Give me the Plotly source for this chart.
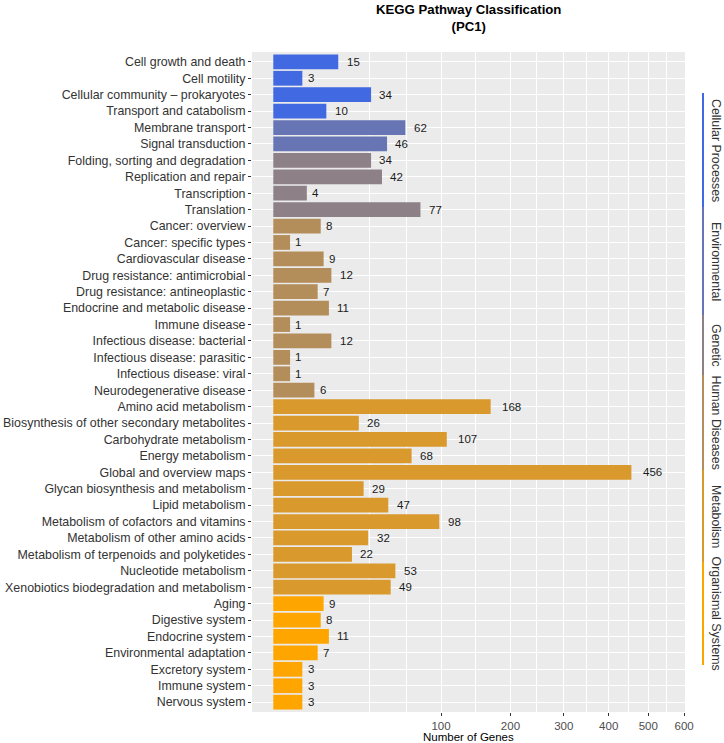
import numpy as np
import plotly.graph_objects as go

pathways = [
    "Cell growth and death", "Cell motility", "Cellular community \u2013 prokaryotes", "Transport and catabolism",
    "Membrane transport", "Signal transduction",
    "Folding, sorting and degradation", "Replication and repair", "Transcription", "Translation",
    "Cancer: overview", "Cancer: specific types", "Cardiovascular disease", "Drug resistance: antimicrobial",
    "Drug resistance: antineoplastic", "Endocrine and metabolic disease", "Immune disease",
    "Infectious disease: bacterial", "Infectious disease: parasitic", "Infectious disease: viral",
    "Neurodegenerative disease",
    "Amino acid metabolism", "Biosynthesis of other secondary metabolites", "Carbohydrate metabolism",
    "Energy metabolism", "Global and overview maps", "Glycan biosynthesis and metabolism", "Lipid metabolism",
    "Metabolism of cofactors and vitamins", "Metabolism of other amino acids",
    "Metabolism of terpenoids and polyketides", "Nucleotide metabolism", "Xenobiotics biodegradation and metabolism",
    "Aging", "Digestive system", "Endocrine system", "Environmental adaptation", "Excretory system",
    "Immune system", "Nervous system",
]
genes = [15, 3, 34, 10, 62, 46, 34, 42, 4, 77, 8, 1, 9, 12, 7, 11, 1, 12, 1, 1, 6,
         168, 26, 107, 68, 456, 29, 47, 98, 32, 22, 53, 49, 9, 8, 11, 7, 3, 3, 3]
groups = (["Cellular Processes"] * 4 + ["Environmental"] * 2 + ["Genetic"] * 4 +
          ["Human Diseases"] * 11 + ["Metabolism"] * 12 + ["Organismal Systems"] * 7)
group_names = ["Cellular Processes", "Environmental", "Genetic", "Human Diseases", "Metabolism", "Organismal Systems"]
group_colors = ["#4169E1", "#6775B4", "#8D8187", "#B38D5A", "#D9992D", "#FFA500"]
x_ticks = [100, 200, 300, 400, 500, 600]
minor_grid = [33, 63, 146, 247, 348, 448, 549]

cmap = dict(zip(group_names, group_colors))
sx = np.sqrt(np.array(genes, dtype=float))

fig = go.Figure()
fig.add_trace(go.Bar(
    x=sx, y=pathways, orientation="h", width=0.9,
    marker=dict(color=[cmap[g] for g in groups], line=dict(width=0)),
    hoverinfo="skip", showlegend=False,
))

annotations = []
for p, v, s in zip(pathways, genes, sx):
    w = 6.4 * len(str(v))
    annotations.append(dict(x=s, y=p, xref="x", yref="y", text=str(v), showarrow=False,
                            xanchor="left", xshift=0.5 * w, font=dict(size=11.5, color="#1a1a1a")))

# right-hand group strip
seg_px = [93, 207, 315, 375, 470, 562, 665]
top, bot = 52, 712
def py(p):
    return (bot - p) / (bot - top)
shapes = []
for i, (g, c) in enumerate(zip(group_names, group_colors)):
    y0, y1 = py(seg_px[i]), py(seg_px[i + 1])
    shapes.append(dict(type="line", xref="paper", yref="paper", x0=(703 - 252) / 433, x1=(703 - 252) / 433,
                       y0=y0, y1=y1, line=dict(color=c, width=2)))
    annotations.append(dict(xref="paper", yref="paper", x=(716 - 252) / 433, y=(y0 + y1) / 2,
                            text=g, textangle=90, showarrow=False, xanchor="center", yanchor="middle",
                            font=dict(size=12.4, color="#333333")))

annotations.append(dict(xref="paper", yref="paper", x=0.5, y=1, yshift=34, yanchor="middle",
                        text="<b>KEGG Pathway Classification</b><br><b>(PC1)</b>", showarrow=False,
                        font=dict(size=13.2, color="#000000")))
annotations.append(dict(xref="paper", yref="paper", x=0.5, y=0, yshift=-25, yanchor="middle",
                        text="Number of Genes", showarrow=False, font=dict(size=11.5, color="#000000")))

fig.update_layout(
    width=724, height=743,
    margin=dict(l=252, r=39, t=52, b=31),
    paper_bgcolor="white", plot_bgcolor="#EBEBEB",
    font=dict(family="Liberation Sans, Arial, sans-serif", color="#333333"),
    annotations=annotations, shapes=shapes, bargap=0.1,
)
fig.update_xaxes(
    automargin=False,
    range=[-1.27, 24.55], tickmode="array",
    tickvals=np.sqrt(x_ticks), ticktext=[str(t) for t in x_ticks],
    showgrid=True, gridcolor="white", gridwidth=1.2, zeroline=False,
    ticks="outside", ticklen=3, tickcolor="#333333", tickfont=dict(size=11.5, color="#4D4D4D"),
    showline=False,
    minor=dict(tickvals=np.sqrt(minor_grid).tolist(), showgrid=True, gridcolor="white", gridwidth=0.6, ticklen=0),
)
fig.update_yaxes(
    automargin=False,
    type="category", categoryorder="array", categoryarray=pathways,
    range=[len(pathways) - 0.4, -0.6],
    showgrid=True, gridcolor="white", gridwidth=1.2,
    ticks="outside", ticklen=3, tickcolor="#333333", tickfont=dict(size=12.4, color="#333333"),
    showline=False,
)
fig.write_html("out.html")
